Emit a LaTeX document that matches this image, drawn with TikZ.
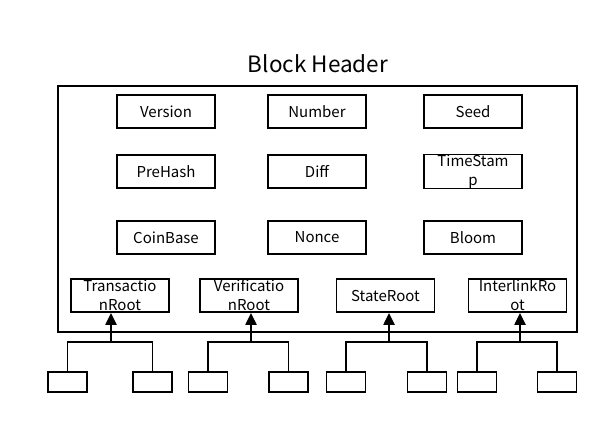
\documentclass[tikz,border=0pt]{standalone}
\usepackage{fontspec}
\setmainfont{Noto Sans CJK SC}
\usetikzlibrary{arrows.meta}
\begin{document}
\begin{tikzpicture}[x=1pt,y=-1pt,
  field/.style={draw, line width=1.8pt, minimum width=98pt, minimum height=33pt, inner sep=0pt, align=center, font=\fontsize{15}{19}\selectfont},
  leaf/.style={draw, line width=1.8pt, minimum width=39pt, minimum height=20pt, inner sep=0pt},
  link/.style={line width=1.8pt},
  up/.style={line width=2.2pt, -{Triangle[length=12pt,width=11pt]}}]
\useasboundingbox (0,0) rectangle (609,424);
\node[font=\fontsize{22.5}{26}\selectfont] (title) at (318,64) {Block Header};
\node[draw, line width=1.8pt, minimum width=519pt, minimum height=246pt, inner sep=0pt] (hdr) at (317.5,209) {};
\node[field] (version) at (166,111.5) {Version};
\node[field] (number) at (317,111.5) {Number};
\node[field] (seed) at (473,111.5) {Seed};
\node[field] (prehash) at (166,171.5) {PreHash};
\node[field] (diff) at (317,171.5) {Diff};
\node[field] (time) at (473,171.5) {TimeStam\\p};
\node[field] (coinbase) at (166,237.5) {CoinBase};
\node[field] (nonce) at (317,237.5) {Nonce};
\node[field] (bloom) at (473,237.5) {Bloom};
\node[field] (tx) at (120,295.5) {Transactio\\nRoot};
\node[field] (ver) at (249,295.5) {Verificatio\\nRoot};
\node[field] (state) at (385.5,295.5) {StateRoot};
\node[field] (inter) at (517.5,295.5) {InterlinkRo\\ot};
% leaves
\node[leaf] (t1) at (67.5,382) {};
\node[leaf] (t2) at (152.5,382) {};
\node[leaf] (v1) at (208,382) {};
\node[leaf] (v2) at (288.5,382) {};
\node[leaf] (s1) at (346,382) {};
\node[leaf] (s2) at (427,382) {};
\node[leaf] (i1) at (477,382) {};
\node[leaf] (i2) at (557,382) {};
% junctions
\coordinate (tj) at (111,342);
\coordinate (vj) at (251,342);
\coordinate (sj) at (389,342);
\coordinate (ij) at (520,342);
\foreach \j/\a/\b/\n in {tj/t1/t2/tx, vj/v1/v2/ver, sj/s1/s2/state, ij/i1/i2/inter}{
  \draw[link] (\a.north) |- (\j) -| (\b.north);
  \draw[up] (\j) -- (\j |- \n.south);
}
\end{tikzpicture}
\end{document}
